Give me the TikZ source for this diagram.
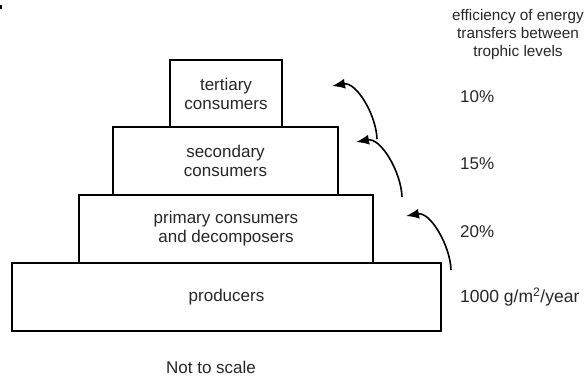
\documentclass[tikz,border=0pt]{standalone}
\usepackage{fontspec}
\setmainfont{Liberation Sans}
\usetikzlibrary{arrows.meta}
\begin{document}
\begin{tikzpicture}[x=1pt,y=-1pt,
  level/.style={draw=black,line width=2.6pt,inner sep=0pt,align=center,
    font=\fontsize{17}{19}\selectfont,text=black!85},
  lbl/.style={inner sep=0pt,font=\fontsize{17}{19}\selectfont,text=black!85},
  transfer/.style={line width=1.6pt,-{Latex[length=13pt,width=10pt]}}]
\useasboundingbox (0,0) rectangle (584,383);
\fill[black] (0,5) rectangle (1.5,9);
% pyramid levels
\node[level,minimum width=429pt,minimum height=68pt] (prod) at (226.5,297) {producers};
\node[level,minimum width=294pt,minimum height=68pt] (prim) at (226,229) {primary consumers\\and decomposers};
\node[level,minimum width=225pt,minimum height=68pt] (sec) at (225.5,161) {secondary\\consumers};
\node[level,minimum width=112pt,minimum height=67pt] (ter) at (226,93.5) {tertiary\\consumers};
% labels
\node[lbl,align=center,font=\fontsize{15.3}{18}\selectfont] (head) at (518,35) {efficiency of energy\\transfers between\\trophic levels};
\node[lbl,anchor=west] (p10) at (460,97) {10\%};
\node[lbl,anchor=west] (p15) at (460,164) {15\%};
\node[lbl,anchor=west] (p20) at (460,232) {20\%};
\node[lbl,anchor=west,font=\fontsize{17.5}{19}\selectfont] (p1000) at (460,297) {1000 g/m\textsuperscript{2}/year};
\node[lbl] (note) at (211,367) {Not to scale};
% arrows
\coordinate (a1s) at (377,139);
\coordinate (a1e) at (332,86);
\coordinate (a2s) at (402,197);
\coordinate (a2e) at (356,142);
\coordinate (a3s) at (451,270);
\coordinate (a3e) at (406,216);
\draw[transfer] (a1s) to[out=92,in=10,looseness=0.9] (a1e);
\draw[transfer] (a2s) to[out=92,in=10,looseness=0.9] (a2e);
\draw[transfer] (a3s) to[out=92,in=10,looseness=0.9] (a3e);
\end{tikzpicture}
\end{document}
